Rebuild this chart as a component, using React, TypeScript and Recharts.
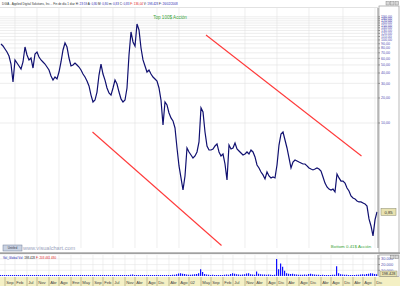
import React from "react";
import {
  ComposedChart,
  Line,
  Bar,
  XAxis,
  YAxis,
  CartesianGrid,
  ReferenceLine,
} from "recharts";

// daily closes (split adjusted)
const closes = [
  89.4, 84.6, 77.8, 71.6, 64.1, 51.3, 31.2, 57.4, 52.8, 48.6,
  44.7, 54.3, 82.2, 65.9, 57.4, 60.6, 45.9, 67.7, 71.6, 62.3,
  57.4, 54.3, 51.3, 47.2, 43.5, 36.8, 32.9, 35.8, 33.9, 41.1,
  54.3, 75.7, 91.9, 82.2, 60.6, 48.6, 49.9, 52.8, 49.9, 47.2,
  43.5, 38.9, 35.8, 32.0, 27.9, 21.7, 17.9, 18.9, 23.6, 37.8,
  51.3, 38.9, 32.9, 26.4, 23.0, 21.7, 26.4, 32.9, 29.5, 23.6,
  19.5, 17.9, 18.9, 26.4, 65.9, 124.7, 94.5, 84.6, 155.6, 131.8,
  80.0, 57.4, 48.6, 41.1, 43.5, 38.9, 35.8, 33.9, 32.0, 26.4,
  18.9, 9.46, 17.9, 16.5, 13.2, 11.5, 10.6, 8.71, 5.0, 3.04,
  2.18, 1.56, 2.3, 5.0, 4.48, 4.12, 3.79, 4.01, 4.48, 5.91,
  15.2, 13.6, 7.79, 5.29, 4.73, 4.73, 4.86, 5.29, 5.59, 4.48,
  4.01, 4.23, 3.21, 2.06, 5.43, 4.86, 5.0, 5.74, 4.86, 4.6,
  4.35, 4.12, 4.23, 4.48, 4.23, 4.73, 4.48, 3.9, 3.12, 2.87,
  2.57, 2.37, 2.12, 2.57, 2.3, 2.18, 2.24, 2.18, 3.12, 5.43,
  7.37, 7.79, 6.24, 5.0, 3.79, 2.87, 3.39, 3.58, 3.49, 3.39,
  3.3, 3.21, 3.21, 3.04, 2.87, 2.79, 2.72, 2.79, 2.87, 2.79,
  2.64, 2.24, 1.89, 1.7, 1.6, 1.56, 1.6, 1.48, 2.43, 2.18,
  2.0, 2.0, 1.89, 1.65, 1.52, 1.32, 1.25, 1.22, 1.15, 1.12,
  1.12, 1.09, 1.06, 1.0, 0.7, 0.575, 0.436, 0.68, 0.85,
];

const volumes = [
  300, 250, 400, 350, 300, 500, 450, 300, 350, 400,
  300, 350, 300, 280, 320, 400, 350, 300, 260, 300,
  350, 400, 300, 280, 300, 320, 450, 500, 400, 350,
  300, 350, 400, 500, 600, 450, 400, 380, 350, 420,
  500, 600, 800, 700, 550, 600, 650, 500, 550, 600,
  700, 650, 600, 800, 900, 700, 650, 600, 700, 1200,
  900, 800, 1000, 1500, 1200, 2000, 2500, 1500, 1200, 1000,
  900, 1100, 1000, 1200, 1500, 1000, 900, 1100, 1300, 1000,
  1200, 1400, 1500, 1300, 1200, 1800, 2200, 2000, 3000, 4500,
  5000, 4000, 3500, 2500, 2200, 2000, 2500, 3000, 3500, 5000,
  12000, 7000, 3500, 2500, 2000, 1800, 2000, 1600, 1500, 1700,
  1500, 1800, 2000, 2500, 2200, 3500, 5000, 4000, 3000, 2500,
  2000, 2500, 3000, 4500, 5000, 3000, 2500, 2200, 8000, 4000,
  3000, 2800, 2500, 2200, 2500, 2000, 1800, 2000, 30000, 12000,
  22000, 16000, 9000, 5000, 4000, 3500, 4000, 3000, 2500, 2200,
  2000, 2200, 2500, 2000, 3500, 4000, 3000, 2500, 2200, 2000,
  1800, 2000, 1800, 1600, 1500, 1800, 2000, 2200, 17000, 5000,
  3000, 2500, 2200, 2000, 1800, 1600, 1500, 1800, 2000, 2200,
  2500, 3000, 2800, 3500, 4000, 5000, 4500, 3500, 3000,
];

const monthLabels = [
  "Sep", "Feb", "Jul", "Nov", "Abr", "Ago", "Ene", "May", "Sep", "Feb",
  "Jul", "Nov", "Abr", "Ago", "Dic", "Abr", "Ago", "02", "May", "Sep",
  "Feb", "Jul", "Nov", "Abr", "Ago", "Dic", "Abr", "Ago", "Dic", "Abr",
  "Ago", "Dic", "Abr", "Ago", "Dic",
];
const monthTicks = [
  2, 7, 13, 18, 24, 29, 35, 40, 46, 51, 56, 62, 67, 73, 78, 84, 89, 94,
  100, 105, 111, 116, 122, 127, 133, 138, 143, 149, 154, 160, 165, 171,
  176, 181, 187,
];

const priceTicks = [
  10, 20, 30, 40, 50, 60, 70, 80, 90, 100, 110, 120, 130, 140, 150, 160,
  170, 180, 190,
];
const volumeTicks = [10000, 20000, 30000];

// the two hand drawn channel lines (index, price)
const lowerChannel = [
  { x: 45.75, y: 7.79 },
  { x: 110.25, y: 0.335 },
];
const upperChannel = [
  { x: 102.5, y: 114.7 },
  { x: 180.25, y: 4.01 },
];

const rows = closes.map((c, i) => ({ i, close: c, vol: volumes[i] }));
const lastClose = closes[closes.length - 1];

const FONT = "'Liberation Sans', Arial, sans-serif";
const fmtPrice = (v: number) => v.toFixed(2).replace(".", ",");
const fmtVol = (v: number) => `${v / 1000}.000`;

function PriceTag(props: any) {
  const vb = props.viewBox;
  if (!vb) return null;
  const x = vb.x + vb.width + 3;
  const y = vb.y;
  return (
    <g>
      <rect x={x} y={y - 3.5} width={15} height={7} fill="#e8e2b0" stroke="#8a8a70" strokeWidth={0.5} />
      <text x={x + 7.5} y={y + 1.6} fontSize={4.2} textAnchor="middle" fill="#333">
        {fmtPrice(lastClose)}
      </text>
    </g>
  );
}

function MonthTick(props: any) {
  const { x, y, index } = props;
  return (
    <g>
      <line x1={x} y1={y + 1} x2={x} y2={y + 10} stroke="#9a9470" strokeWidth={0.6} />
      <text x={x + 1.2} y={y + 7.5} fontSize={4.2} fill="#444">
        {monthLabels[index]}
      </text>
    </g>
  );
}

export default function App() {
  return (
    <div
      style={{
        position: "fixed",
        left: 0,
        top: 0,
        width: 400,
        height: 286,
        background: "#fff",
        overflow: "hidden",
        fontFamily: FONT,
      }}
    >
      {/* date strip background */}
      <div style={{ position: "absolute", left: 0, top: 277, width: 400, height: 9, background: "#f4f0c4" }} />

      <div style={{ position: "absolute", left: 0, top: 0 }}>
        <ComposedChart width={400} height={254} data={rows} margin={{ top: 8, right: 0, bottom: 6, left: 0 }}>
          <CartesianGrid
            stroke="#e2e2e2"
            strokeWidth={0.6}
            verticalValues={monthTicks}
            horizontalValues={priceTicks}
          />
          <XAxis dataKey="i" type="number" domain={[-0.5, 188.5]} hide />
          <YAxis
            orientation="right"
            scale="log"
            domain={[0.3125, 242.5]}
            allowDataOverflow
            ticks={priceTicks}
            interval={0}
            width={22}
            tickSize={2}
            tickMargin={1}
            tickFormatter={fmtPrice}
            tick={{ fontSize: 3.6, fill: "#5050b0" }}
            stroke="#8c8c8c"
          />
          <ReferenceLine segment={lowerChannel} stroke="#ff3a3a" strokeWidth={1.1} ifOverflow="visible" />
          <ReferenceLine segment={upperChannel} stroke="#ff3a3a" strokeWidth={1.1} ifOverflow="visible" />
          <Line
            type="linear"
            dataKey="close"
            stroke="#101070"
            strokeWidth={1.2}
            dot={false}
            isAnimationActive={false}
          />
          <ReferenceLine y={lastClose} stroke="none" label={<PriceTag />} />
        </ComposedChart>
      </div>

      <div style={{ position: "absolute", left: 0, top: 254 }}>
        <ComposedChart width={400} height={32} data={rows} margin={{ top: 1, right: 0, bottom: 0, left: 0 }}>
          <CartesianGrid
            stroke="#e6e6e6"
            strokeWidth={0.6}
            verticalValues={monthTicks}
            horizontalValues={volumeTicks}
          />
          <XAxis
            dataKey="i"
            type="number"
            domain={[-0.5, 188.5]}
            ticks={monthTicks}
            interval={0}
            height={10}
            tickSize={0}
            tickMargin={0}
            axisLine={false}
            tickLine={false}
            tick={<MonthTick />}
          />
          <YAxis
            orientation="right"
            domain={[0, 36800]}
            allowDataOverflow
            ticks={volumeTicks}
            interval={0}
            width={22}
            tickSize={2}
            tickMargin={1}
            tickFormatter={fmtVol}
            tick={{ fontSize: 4, fill: "#5050b0" }}
            stroke="#8c8c8c"
          />
          <Bar dataKey="vol" fill="#1010ff" barSize={1.2} minPointSize={1} isAnimationActive={false} />
        </ComposedChart>
      </div>

      <svg
        width={400}
        height={286}
        style={{ position: "absolute", left: 0, top: 0, pointerEvents: "none" }}
      >
        <text x={2} y={4.5} fontSize={3} fill="#333">
          DGIA - Applied Digital Solutions, Inc. - Fin de día 1 diar
          <tspan fill="#222"> H: </tspan><tspan fill="#2828b0">23:59</tspan>
          <tspan fill="#222"> A: </tspan><tspan fill="#2828b0">0,80</tspan>
          <tspan fill="#222"> M: </tspan><tspan fill="#2828b0">0,80</tspan>
          <tspan fill="#222"> m: </tspan><tspan fill="#2828b0">0,83</tspan>
          <tspan fill="#222"> C: </tspan><tspan fill="#2828b0">0,83</tspan>
          <tspan fill="#dd2020"> F: 136,04</tspan>
          <tspan fill="#222"> V: </tspan><tspan fill="#2828b0">198.428</tspan>
          <tspan fill="#222"> F: </tspan><tspan fill="#2828b0">26/02/2008</tspan>
        </text>
        <line x1={0} y1={7.5} x2={378} y2={7.5} stroke="#cfcfcf" strokeWidth={0.6} />
        {/* axis frames and window buttons */}
        <rect x={379} y={6} width={20} height={247} fill="none" stroke="#9a9a9a" strokeWidth={0.7} />
        <rect x={386} y={1.5} width={3.5} height={3.5} fill="#d8d8d8" stroke="#777" strokeWidth={0.4} />
        <rect x={390.5} y={1.5} width={3.5} height={3.5} fill="#d8d8d8" stroke="#777" strokeWidth={0.4} />
        <rect x={395} y={1.5} width={3.5} height={3.5} fill="#d8d8d8" stroke="#777" strokeWidth={0.4} />

        <text x={170} y={18.5} fontSize={4.6} textAnchor="middle" fill="#3aa63a">Top 100$ Acción</text>
        <text x={351} y={247.5} fontSize={4.4} textAnchor="middle" fill="#3aa63a">Bottom 0.41$ Acción</text>

        <rect x={3} y={245} width={19} height={6} fill="#c9d2e2" stroke="#6f7d98" strokeWidth={0.5} />
        <text x={12.5} y={249.2} fontSize={2.8} textAnchor="middle" fill="#334">Untitled</text>
        <text x={23} y={250} fontSize={5.6} fill="#9aa2bc">www.visualchart.com</text>

        <rect x={0} y={252.3} width={400} height={1.8} fill="#a0a0a0" />

        <text x={3} y={259} fontSize={3} fill="#2828b0">
          Vol_Global Vol: <tspan fill="#222">198.428</tspan>
          <tspan fill="#dd2020">  F: 203 461 480</tspan>
        </text>
        <rect x={379} y={255} width={20} height={21.5} fill="none" stroke="#9a9a9a" strokeWidth={0.7} />
        <rect x={390.5} y={255.3} width={3.5} height={3.5} fill="#d8d8d8" stroke="#777" strokeWidth={0.4} />
        <rect x={395} y={255.3} width={3.5} height={3.5} fill="#d8d8d8" stroke="#777" strokeWidth={0.4} />
        <rect x={380} y={271} width={17} height={5.5} fill="#e8e2b0" stroke="#8a8a70" strokeWidth={0.5} />
        <text x={388.5} y={275} fontSize={3.8} textAnchor="middle" fill="#333">198.428</text>
      </svg>
    </div>
  );
}
